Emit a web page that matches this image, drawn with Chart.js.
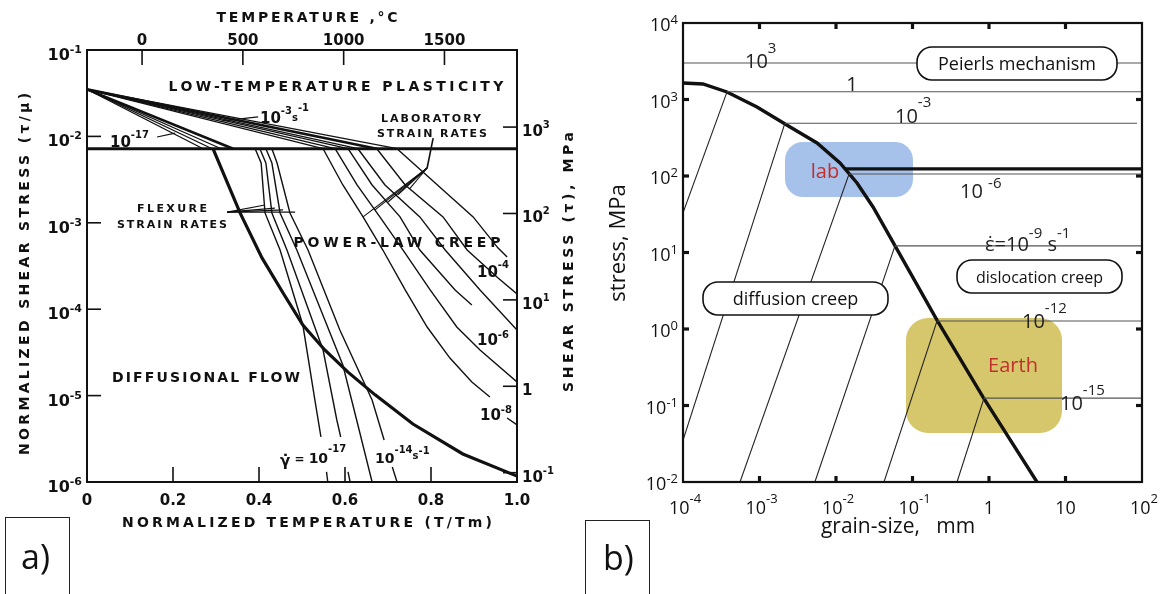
<!DOCTYPE html>
<html><head><meta charset="utf-8">
<script src="https://cdn.jsdelivr.net/npm/chart.js@4.4.1/dist/chart.umd.min.js"></script>
<style>
html,body{margin:0;padding:0;background:#fff;}
body{width:1171px;height:594px;position:relative;overflow:hidden;}
canvas{position:absolute;left:0;top:0;}
.tag{position:absolute;border:1.4px solid #222;border-bottom:none;box-sizing:border-box;font-family:"Open Sans",sans-serif;font-size:34px;color:#111;}
.tag span{position:absolute;}
</style></head><body>
<canvas id="ca" width="1171" height="594"></canvas>
<canvas id="cb" width="1171" height="594"></canvas>
<div class="tag" style="left:5px;top:517px;width:65px;height:80px;"><span style="left:15px;top:15px;">a)</span></div>
<div class="tag" style="left:585px;top:520px;width:65px;height:80px;"><span style="left:17px;top:13px;">b)</span></div>
<script>
// ================= PANEL (a) DATA =================
const aXTickVals = [0, 0.2, 0.4, 0.6, 0.8, 1.0];
const aXTickLabels = ['0', '0.2', '0.4', '0.6', '0.8', '1.0'];
const aYTickVals = [1e-1, 1e-2, 1e-3, 1e-4, 1e-5, 1e-6];
const aYTickExps = ['-1', '-2', '-3', '-4', '-5', '-6'];
const tempTicksC = [0, 500, 1000, 1500];
const meltingPointK = 2133;
const stressTicksMPa = [1e3, 1e2, 1e1, 1, 1e-1];
const stressTickBase = ['10', '10', '10', '1', '10'];
const stressTickExp = ['3', '2', '1', '', '-1'];
const shearModulusMPa = 7.8e4;

const plasticityLimitTau = 7.2e-3;
const ltpOriginTau = 0.035;
const ltpEndT = [0.270, 0.291, 0.312, 0.340, 0.549, 0.577, 0.607, 0.630, 0.674, 0.721];

const diffBoundaryT   = [0.293, 0.356, 0.407, 0.456, 0.502, 0.553, 0.607, 0.670, 0.758, 0.874, 1.0];
const diffBoundaryTau = [7.2e-3, 1.30e-3, 3.92e-4, 1.54e-4, 6.56e-5, 3.37e-5, 1.87e-5, 1.02e-5, 4.69e-6, 2.11e-6, 1.17e-6];

// slow (geological) strain-rate contours, null = gap for a label
const slowT = [
  [0.391, 0.405, 0.414, 0.449, 0.502, 0.530, 0.544, null, 0.557, 0.560],
  [0.402, 0.416, 0.430, 0.465, 0.549, 0.581, 0.590, null, 0.607, 0.612],
  [0.416, 0.430, 0.449, 0.488, 0.595, 0.630, 0.663],
  [0.430, 0.442, 0.472, 0.514, 0.588, 0.663, 0.691, null, 0.710, 0.721]
];
const slowTau = [
  [7.2e-3, 4.92e-3, 1.30e-3, 4.84e-4, 6.56e-5, 8.89e-6, 3.32e-6, null, 1.31e-6, 1e-6],
  [7.2e-3, 4.92e-3, 1.30e-3, 4.84e-4, 3.37e-5, 5.22e-6, 3.32e-6, null, 1.31e-6, 1e-6],
  [7.2e-3, 4.92e-3, 1.30e-3, 4.84e-4, 2.26e-5, 4.57e-6, 1e-6],
  [7.2e-3, 4.92e-3, 1.30e-3, 4.84e-4, 5.74e-5, 8.89e-6, 3.06e-6, null, 1.49e-6, 1e-6]
];
// laboratory strain-rate contours
const fastT = [
  [0.549, 0.595, 0.642, 0.688, 0.740, 0.791, 0.844, 0.895, 0.937, null, 0.977, 1.0],
  [0.577, 0.628, 0.681, 0.735, 0.798, 0.860, 0.914, 1.0],
  [0.607, 0.663, 0.728, 0.774, 0.856, 0.895],
  [0.630, 0.693, 0.774, 0.833, 0.914, 1.0],
  [0.674, 0.740, 0.828, 0.884, 0.956, 1.0],
  [0.721, 0.802, 0.898, 0.956, 0.977]
];
const fastTau = [
  [7.2e-3, 2.74e-3, 1.17e-3, 4.84e-4, 1.67e-4, 6.22e-5, 2.72e-5, 1.44e-5, 9.63e-6, null, 5.51e-6, 4.57e-6],
  [7.2e-3, 2.74e-3, 1.17e-3, 4.84e-4, 1.67e-4, 6.22e-5, 3.37e-5, 1.44e-5],
  [7.2e-3, 2.74e-3, 1.17e-3, 4.84e-4, 1.67e-4, 1.12e-4],
  [7.2e-3, 2.74e-3, 1.17e-3, 4.84e-4, 1.67e-4, 5.74e-5],
  [7.2e-3, 2.74e-3, 1.17e-3, 4.84e-4, 2.30e-4, 1.50e-4],
  [7.2e-3, 3.13e-3, 1.17e-3, 5.1e-4, 4.02e-4]
];
// leader lines of the annotations
const labLeaderRootT = [0.805, 0.791];
const labLeaderRootTau = [9.57e-3, 4.31e-3];
const labLeaderTipT = [0.642, 0.670, 0.700, 0.723, 0.751];
const labLeaderTipTau = [1.17e-3, 1.41e-3, 1.74e-3, 2.10e-3, 2.5e-3];
const flexLeaderRootT = 0.326, flexLeaderRootTau = 1.33e-3;
const flexLeaderTipT = [0.484, 0.414, 0.437, 0.456];
const flexLeaderTipTau = [1.33e-3, 1.61e-3, 1.48e-3, 1.41e-3];
const leaderHighT = [0.314, 0.398], leaderHighTau = [1.51e-2, 1.68e-2];
const leaderLowT = [0.163, 0.205], leaderLowTau = [9.84e-3, 1.09e-2];

// ================= PANEL (b) DATA =================
const bXTicks = [1e-4, 1e-3, 1e-2, 1e-1, 1, 10, 100];
const bXTickBase = ['10', '10', '10', '10', '1', '10', '10'];
const bXTickExp = ['-4', '-3', '-2', '-1', '', '', '2'];
const bYTicks = [1e-2, 1e-1, 1, 10, 100, 1e3, 1e4];
const bYTickExp = ['-2', '-1', '0', '1', '2', '3', '4'];

const mechBoundaryD = [1e-4, 1.82e-4, 3.76e-4, 9.27e-4, 2.51e-3, 5.65e-3, 1.128e-2, 1.883e-2, 3.05e-2, 5.08e-2, 0.209, 0.836, 4.24];
const mechBoundaryS = [1644, 1596, 1253, 798, 437, 270, 148, 81, 39.4, 16, 1.31, 0.129, 0.01];
const labStressLevel = 124, labStressStartD = 0.0131;

const contourRates = ['10^3', '1', '10^-3', '10^-6', '10^-9', '10^-12', '10^-15'];
const dislocStress = [3000, 1260, 490, 106, 12.2, 1.27, 0.125];
const dislocStartD = [1e-4, 3.76e-4, 2.15e-3, 0.0148, 0.059, 0.209, 0.86];
const dislocEndD = [100, 100, 86, 100, 100, 100, 100];
const diffEndD = [null, 1e-4, 1e-4, 5.56e-4, 5.3e-3, 0.0424, 0.382];
const diffEndS = [null, 33, 0.035, 0.01, 0.01, 0.01, 0.01];

// ================= helpers =================
const FA = '"DejaVu Sans"', FB = '"Open Sans"';
function P(xs, ys) { return xs.map((v, i) => (v === null || ys[i] === null) ? {x: NaN, y: NaN} : {x: v, y: ys[i]}); }
function ds(data, w, color) { return {data, showLine: true, borderColor: color || '#111', borderWidth: w, pointRadius: 0, spanGaps: false, tension: 0, fill: false}; }
function line(ctx, x1, y1, x2, y2) { ctx.beginPath(); ctx.moveTo(x1, y1); ctx.lineTo(x2, y2); ctx.stroke(); }
function rich(ctx, family, weight, x, parts, align) {
  const w = parts.map(p => { ctx.font = `${weight} ${p[1]}px ${family}`; return ctx.measureText(p[0]).width; });
  const tot = w.reduce((a, b) => a + b, 0);
  let cx = align === 'right' ? x - tot : align === 'center' ? x - tot / 2 : x;
  ctx.textAlign = 'left'; ctx.textBaseline = 'alphabetic';
  parts.forEach((p, i) => { ctx.font = `${weight} ${p[1]}px ${family}`; ctx.fillText(p[0], cx, p[2]); cx += w[i]; });
}
function spaced(ctx, text, cx, base, size, width) {
  ctx.font = `bold ${size}px ${FA}`;
  ctx.letterSpacing = '0px';
  const w0 = ctx.measureText(text).width;
  const n = [...text].length;
  const ls = n > 1 ? (width - w0) / (n - 1) : 0;
  ctx.letterSpacing = ls.toFixed(2) + 'px';
  ctx.textAlign = 'left'; ctx.textBaseline = 'alphabetic';
  ctx.fillText(text, cx - width / 2, base);
  ctx.letterSpacing = '0px';
}
function rrect(ctx, x, y, w, h, r) {
  ctx.beginPath(); ctx.moveTo(x + r, y); ctx.lineTo(x + w - r, y); ctx.arcTo(x + w, y, x + w, y + r, r);
  ctx.lineTo(x + w, y + h - r); ctx.arcTo(x + w, y + h, x + w - r, y + h, r); ctx.lineTo(x + r, y + h);
  ctx.arcTo(x, y + h, x, y + h - r, r); ctx.lineTo(x, y + r); ctx.arcTo(x, y, x + r, y, r); ctx.closePath();
}

// ================= PANEL (a) CHART =================
const aSets = [];
aSets.push(ds([{x: 0, y: plasticityLimitTau}, {x: 1, y: plasticityLimitTau}], 3.2));
ltpEndT.forEach((t, i) => aSets.push(ds([{x: 0, y: ltpOriginTau}, {x: t, y: plasticityLimitTau}], (i === 3 || i === 8) ? 2.6 : 1.3)));
aSets.push(ds(P(diffBoundaryT, diffBoundaryTau), 3.2));
slowT.forEach((t, i) => aSets.push(ds(P(t, slowTau[i]), 1.4)));
fastT.forEach((t, i) => aSets.push(ds(P(t, fastTau[i]), 1.4)));
aSets.push(ds(P(labLeaderRootT, labLeaderRootTau), 1.6));
labLeaderTipT.forEach((t, i) => aSets.push(ds([{x: labLeaderRootT[1], y: labLeaderRootTau[1]}, {x: t, y: labLeaderTipTau[i]}], 1.1)));
flexLeaderTipT.forEach((t, i) => aSets.push(ds([{x: flexLeaderRootT, y: flexLeaderRootTau}, {x: t, y: flexLeaderTipTau[i]}], 1.1)));
aSets.push(ds(P(leaderHighT, leaderHighTau), 1.2));
aSets.push(ds(P(leaderLowT, leaderLowTau), 1.2));

const panelA = {
  id: 'panelA',
  afterDraw(chart) {
    const {ctx, chartArea: ca, scales: {x, y}} = chart;
    ctx.save();
    ctx.strokeStyle = '#111'; ctx.fillStyle = '#111';
    ctx.lineWidth = 2;
    ctx.strokeRect(ca.left, ca.top, ca.right - ca.left, ca.bottom - ca.top);
    ctx.lineWidth = 1.6;
    aXTickVals.forEach((v, i) => {
      const px = x.getPixelForValue(v);
      if (i > 0 && i < aXTickVals.length - 1) line(ctx, px, ca.bottom, px, ca.bottom - 15);
      rich(ctx, FA, 'bold', px, [[aXTickLabels[i], 15, 505]], 'center');
    });
    aYTickVals.forEach((v, i) => {
      const py = y.getPixelForValue(v);
      if (i > 0 && i < aYTickVals.length - 1) line(ctx, ca.left, py, ca.left + 14, py);
      rich(ctx, FA, 'bold', 82, [['10', 16, py + 10], [aYTickExps[i], 11, py + 3]], 'right');
    });
    tempTicksC.forEach(c => {
      const px = x.getPixelForValue((c + 273.15) / meltingPointK);
      line(ctx, px, ca.top, px, ca.top + 15);
      rich(ctx, FA, 'bold', px, [[String(c), 15, 45]], 'center');
    });
    stressTicksMPa.forEach((m, i) => {
      const py = y.getPixelForValue(m / shearModulusMPa);
      line(ctx, ca.right, py, ca.right - 14, py);
      rich(ctx, FA, 'bold', 522, [[stressTickBase[i], 15, py + 9], [stressTickExp[i], 10, py + 1]], 'left');
    });
    spaced(ctx, 'TEMPERATURE ,°C', 307, 22, 14, 181);
    spaced(ctx, 'NORMALIZED TEMPERATURE (T/Tm)', 307, 527, 14, 370);
    ctx.save(); ctx.translate(29, 274); ctx.rotate(-Math.PI / 2);
    spaced(ctx, 'NORMALIZED SHEAR STRESS (τ/μ)', 0, 0, 14, 362); ctx.restore();
    ctx.save(); ctx.translate(573, 262); ctx.rotate(-Math.PI / 2);
    spaced(ctx, 'SHEAR STRESS (τ), MPa', 0, 0, 14, 260); ctx.restore();
    spaced(ctx, 'LOW-TEMPERATURE PLASTICITY', 336, 91, 14, 335);
    spaced(ctx, 'POWER-LAW CREEP', 397, 247, 14, 207);
    spaced(ctx, 'DIFFUSIONAL FLOW', 206, 382, 14, 188);
    spaced(ctx, 'LABORATORY', 431, 122, 11, 100);
    spaced(ctx, 'STRAIN RATES', 432, 137, 11, 110);
    spaced(ctx, 'FLEXURE', 172, 212, 11, 70);
    spaced(ctx, 'STRAIN RATES', 172, 228, 11, 110);
    rich(ctx, FA, 'bold', 260, [['10', 15, 123], ['-3', 10, 114], ['s', 10, 121], ['-1', 10, 111]], 'left');
    rich(ctx, FA, 'bold', 110, [['10', 15, 147], ['-17', 10, 138]], 'left');
    rich(ctx, FA, 'bold', 477, [['10', 15, 277], ['-4', 10, 268]], 'left');
    rich(ctx, FA, 'bold', 477, [['10', 15, 345], ['-6', 10, 338]], 'left');
    rich(ctx, FA, 'bold', 480, [['10', 15, 420], ['-8', 10, 413]], 'left');
    rich(ctx, FA, 'bold', 280, [['γ̇', 15, 466], [' = ', 12, 463], ['10', 14, 463], ['-17', 10, 452]], 'left');
    rich(ctx, FA, 'bold', 375, [['10', 14, 463], ['-14', 10, 453], ['s', 10, 459], ['-1', 10, 454]], 'left');
    ctx.restore();
  }
};

new Chart(document.getElementById('ca'), {
  type: 'scatter',
  data: {datasets: aSets},
  options: {
    responsive: false, animation: false, events: [], devicePixelRatio: 1,
    layout: {padding: {left: 87, top: 50, right: 654, bottom: 112}},
    plugins: {legend: {display: false}, tooltip: {enabled: false}},
    elements: {point: {radius: 0}},
    scales: {
      x: {type: 'linear', min: 0, max: 1, display: false},
      y: {type: 'logarithmic', min: 1e-6, max: 1e-1, display: false}
    }
  },
  plugins: [panelA]
});

// ================= PANEL (b) CHART =================
const bSets = [];
contourRates.forEach((r, i) => {
  bSets.push(ds([{x: dislocStartD[i], y: dislocStress[i]}, {x: dislocEndD[i], y: dislocStress[i]}], 1.1, '#555'));
  if (diffEndD[i] !== null) bSets.push(ds([{x: dislocStartD[i], y: dislocStress[i]}, {x: diffEndD[i], y: diffEndS[i]}], 1.1, '#222'));
});
bSets.push(ds([{x: labStressStartD, y: labStressLevel}, {x: 100, y: labStressLevel}], 3.4, '#111'));
bSets.push(ds(P(mechBoundaryD, mechBoundaryS), 3.4, '#111'));

const panelB = {
  id: 'panelB',
  beforeDatasetsDraw(chart) {
    const ctx = chart.ctx;
    ctx.save();
    ctx.fillStyle = '#a6c1ea'; rrect(ctx, 785, 142, 128, 55, 18); ctx.fill();
    ctx.fillStyle = '#d6c76c'; rrect(ctx, 906, 318, 156, 115, 22); ctx.fill();
    ctx.restore();
  },
  afterDatasetsDraw(chart) {
    const {ctx, chartArea: ca, scales: {x, y}} = chart;
    ctx.save();
    const pills = [['Peierls mechanism', 917, 47, 200, 33, 18], ['diffusion creep', 703, 282, 185, 33, 18], ['dislocation creep', 957, 260, 165, 33, 16]];
    pills.forEach(p => {
      rrect(ctx, p[1], p[2], p[3], p[4], 15);
      ctx.fillStyle = '#fff'; ctx.fill(); ctx.lineWidth = 1.6; ctx.strokeStyle = '#111'; ctx.stroke();
      ctx.fillStyle = '#111';
      rich(ctx, FB, 'normal', p[1] + p[3] / 2, [[p[0], p[5], p[2] + p[4] / 2 + 6]], 'center');
    });
    ctx.fillStyle = '#c0302c';
    rich(ctx, FB, 'normal', 825, [['lab', 20, 178]], 'center');
    rich(ctx, FB, 'normal', 1013, [['Earth', 20, 372]], 'center');
    ctx.fillStyle = '#222';
    rich(ctx, FB, 'normal', 745, [['10', 20, 68], ['3', 15, 53]], 'left');
    rich(ctx, FB, 'normal', 852, [['1', 20, 91]], 'center');
    rich(ctx, FB, 'normal', 895, [['10', 20, 123], ['-3', 15, 107]], 'left');
    rich(ctx, FB, 'normal', 960, [['10 ', 20, 198], ['-6', 15, 188]], 'left');
    rich(ctx, FB, 'normal', 985, [['ε̇=10', 20, 251], ['-9', 15, 238], [' s', 20, 251], ['-1', 15, 238]], 'left');
    rich(ctx, FB, 'normal', 1022, [['10', 20, 328], ['-12', 15, 313]], 'left');
    rich(ctx, FB, 'normal', 1060, [['10', 20, 410], ['-15', 15, 395]], 'left');
    ctx.strokeStyle = '#111'; ctx.lineWidth = 2.2;
    ctx.strokeRect(ca.left, ca.top, ca.right - ca.left, ca.bottom - ca.top);
    ctx.lineWidth = 3.2;
    bXTicks.forEach((v, i) => {
      const px = x.getPixelForValue(v);
      if (i > 0 && i < bXTicks.length - 1) { line(ctx, px, ca.bottom, px, ca.bottom - 6); line(ctx, px, ca.top, px, ca.top + 6); }
      ctx.fillStyle = '#111';
      const parts = [[bXTickBase[i], 18, 514]];
      if (bXTickExp[i]) parts.push([bXTickExp[i], 13, 503]);
      rich(ctx, FB, 'normal', px + (bXTickExp[i] ? 2 : 0), parts, 'center');
    });
    bYTicks.forEach((v, i) => {
      const py = y.getPixelForValue(v);
      if (i > 0 && i < bYTicks.length - 1) { line(ctx, ca.left, py, ca.left + 6, py); line(ctx, ca.right, py, ca.right - 6, py); }
      rich(ctx, FB, 'normal', 678, [['10', 18, py + 8], [bYTickExp[i], 13, py + 1]], 'right');
    });
    rich(ctx, FB, 'normal', 898, [['grain-size,   mm', 21, 533]], 'center');
    ctx.save(); ctx.translate(625, 243); ctx.rotate(-Math.PI / 2);
    rich(ctx, FB, 'normal', 0, [['stress, MPa', 22, 0]], 'center'); ctx.restore();
    ctx.restore();
  }
};

new Chart(document.getElementById('cb'), {
  type: 'scatter',
  data: {datasets: bSets},
  options: {
    responsive: false, animation: false, events: [], devicePixelRatio: 1,
    layout: {padding: {left: 683, top: 23, right: 29, bottom: 112}},
    plugins: {legend: {display: false}, tooltip: {enabled: false}},
    elements: {point: {radius: 0}},
    scales: {
      x: {type: 'logarithmic', min: 1e-4, max: 100, display: false},
      y: {type: 'logarithmic', min: 1e-2, max: 1e4, display: false}
    }
  },
  plugins: [panelB]
});
</script>
</body></html>
